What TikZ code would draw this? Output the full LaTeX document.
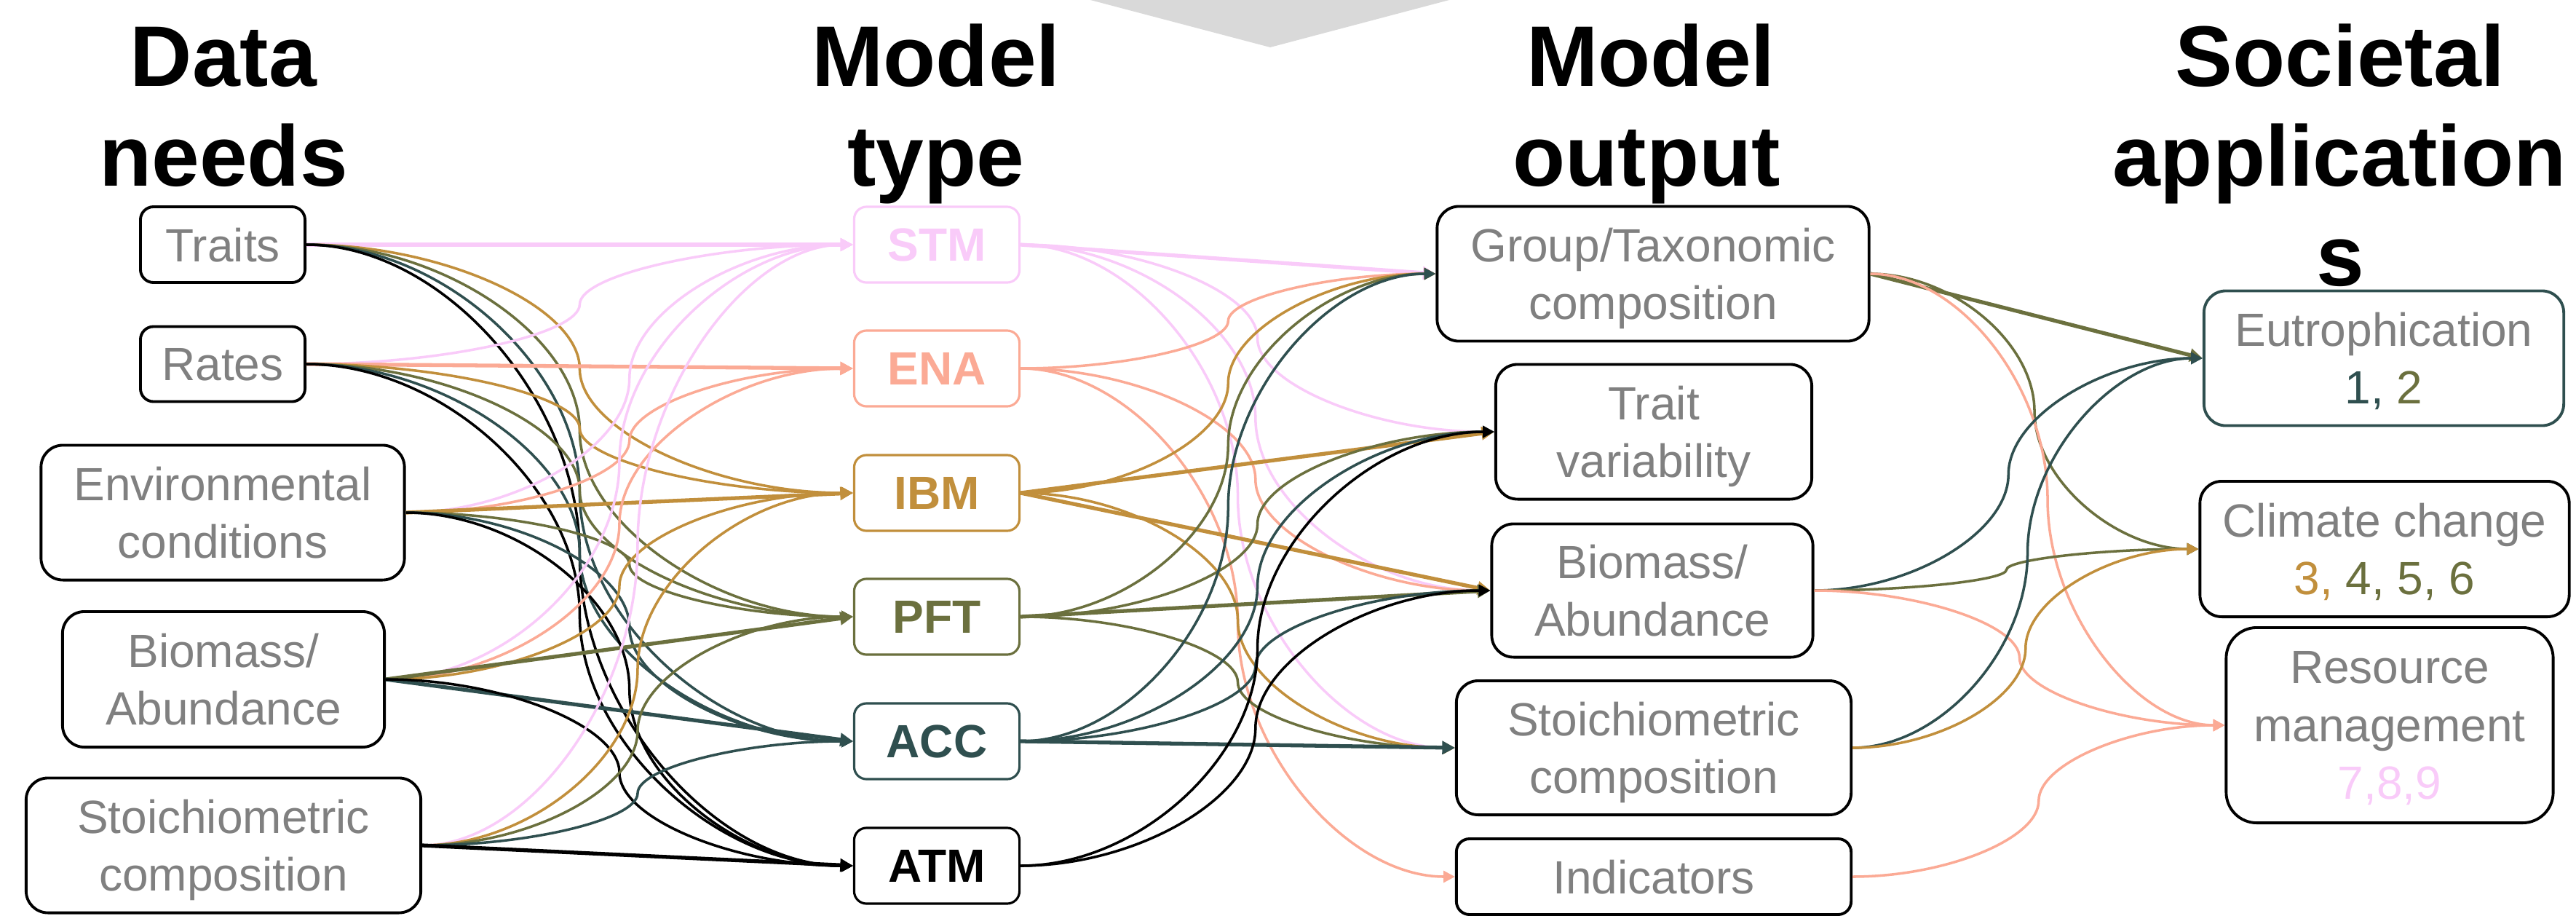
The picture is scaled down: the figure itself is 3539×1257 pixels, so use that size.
\documentclass[tikz,border=0pt]{standalone}
\usepackage{fontspec}
\setmainfont{Liberation Sans}
\usetikzlibrary{arrows.meta,calc}
\definecolor{stmc}{RGB}{249,203,249}
\definecolor{enac}{RGB}{251,170,149}
\definecolor{ibmc}{RGB}{193,143,60}
\definecolor{pftc}{RGB}{107,112,62}
\definecolor{accc}{RGB}{47,79,79}
\definecolor{atmc}{RGB}{0,0,0}
\definecolor{txtg}{RGB}{128,128,128}
\definecolor{trig}{RGB}{217,217,217}
\tikzset{
  box/.style={draw=black, line width=1.1pt, rounded corners=#1, fill=white, inner sep=0pt,
    align=center, text=txtg, text depth=0pt, font=\fontsize{18.2}{22.6}\selectfont},
  box/.default=0.3cm,
  lowtext/.style={text depth=-4pt},
  mbox/.style={draw=#1, text=#1, line width=0.9pt, rounded corners=0.17cm, fill=white,
    minimum width=2.27cm, minimum height=1.04cm, inner sep=0pt,
    font=\bfseries\fontsize{18.2}{22}\selectfont},
  ttl/.style={anchor=base, inner sep=0pt, font=\bfseries\fontsize{33.6}{39}\selectfont},
  con/.style={draw=#1, line width=1pt, -{Triangle[length=4.5pt,width=4.5pt]}},
  scon/.style={draw=#1, line width=1.5pt, -{Triangle[length=5pt,width=5pt]}},
  cc/.style={to path={let \p1=(\tikztostart), \p2=(\tikztotarget) in
    .. controls ({(3*\x1+\x2)/4},\y1) and ({(\x1+\x2)/2},{(3*\y1+\y2)/4}) .. ({(\x1+\x2)/2},{(\y1+\y2)/2})
    .. controls ({(\x1+\x2)/2},{(\y1+3*\y2)/4}) and ({(\x1+3*\x2)/4},\y2) .. (\tikztotarget)}}
}
\begin{document}
\begin{tikzpicture}[x=0.01cm,y=-0.01cm]
\useasboundingbox (0,0) rectangle (3539,1257);
\fill[trig] (1498,0) -- (1991,0) -- (1745,65) -- cycle;

% titles
\node[ttl] (t1a) at (307,118) {Data};
\node[ttl] (t1b) at (307,255) {needs};
\node[ttl] (t2a) at (1286,118) {Model};
\node[ttl] (t2b) at (1286,255) {type};
\node[ttl] (t3a) at (2268,118) {Model};
\node[ttl] (t3b) at (2262,255) {output};
\node[ttl] (t4a) at (3215,118) {Societal};
\node[ttl] (t4b) at (3214,255) {application};
\node[ttl] (t4c) at (3215,392) {s};

% data needs
\node[box=0.18cm, minimum width=2.26cm, minimum height=1.04cm] (traits) at (306,336) {Traits};
\node[box=0.18cm, minimum width=2.26cm, minimum height=1.03cm] (rates) at (306,500) {Rates};
\node[box, minimum width=4.99cm, minimum height=1.85cm] (env) at (306,704) {Environmental\\conditions};
\node[box, minimum width=4.42cm, minimum height=1.86cm] (biom) at (307,933) {Biomass/\\Abundance};
\node[box, minimum width=5.42cm, minimum height=1.85cm] (stoi) at (307,1161) {Stoichiometric\\composition};

% model types
\node[mbox=stmc] (stm) at (1287,336) {STM};
\node[mbox=enac] (ena) at (1287,506) {ENA};
\node[mbox=ibmc] (ibm) at (1287,677) {IBM};
\node[mbox=pftc] (pft) at (1287,847) {PFT};
\node[mbox=accc] (acc) at (1287,1018) {ACC};
\node[mbox=atmc] (atm) at (1287,1189) {ATM};

% model output
\node[box, minimum width=5.93cm, minimum height=1.85cm] (grp) at (2271,376) {Group/Taxonomic\\composition};
\node[box, minimum width=4.34cm, minimum height=1.85cm] (trv) at (2272,593) {Trait\\variability};
\node[box, minimum width=4.41cm, minimum height=1.83cm] (bio) at (2270,811) {Biomass/\\Abundance};
\node[box, minimum width=5.42cm, minimum height=1.84cm] (sto) at (2272,1027) {Stoichiometric\\composition};
\node[box=0.18cm, minimum width=5.42cm, minimum height=1.04cm] (ind) at (2272,1204) {Indicators};

% societal applications
\node[box, lowtext, draw=accc, minimum width=4.94cm, minimum height=1.85cm] (eut) at (3275,492) {Eutrophication\\{\color{accc}1,} {\color{pftc}2}};
\node[box, lowtext, minimum width=5.07cm, minimum height=1.86cm] (cli) at (3276,754) {Climate change\\{\color{ibmc}3,} {\color{pftc}4, 5, 6}};
\node[box=0.42cm, lowtext, minimum width=4.49cm, minimum height=2.68cm] (res) at (3283,996) {Resource\\management\\{\color{stmc}7,8,9}};

% data needs -> model type
\draw[scon=stmc] (traits.east) -- (stm.west);
\draw[con=ibmc] (traits.east) to[cc] (ibm.west);
\draw[con=pftc] (traits.east) to[cc] (pft.west);
\draw[con=accc] (traits.east) to[cc] (acc.west);
\draw[con=atmc] (traits.east) to[cc] (atm.west);

\draw[con=stmc] (rates.east) to[cc] (stm.west);
\draw[scon=enac] (rates.east) -- (ena.west);
\draw[con=ibmc] (rates.east) to[cc] (ibm.west);
\draw[con=pftc] (rates.east) to[cc] (pft.west);
\draw[con=accc] (rates.east) to[cc] (acc.west);
\draw[con=atmc] (rates.east) to[cc] (atm.west);

\draw[con=stmc] (env.east) to[cc] (stm.west);
\draw[con=enac] (env.east) to[cc] (ena.west);
\draw[scon=ibmc] (env.east) -- (ibm.west);
\draw[con=pftc] (env.east) to[cc] (pft.west);
\draw[con=accc] (env.east) to[cc] (acc.west);
\draw[con=atmc] (env.east) to[cc] (atm.west);

\draw[con=stmc] (biom.east) to[cc] (stm.west);
\draw[con=enac] (biom.east) to[cc] (ena.west);
\draw[con=ibmc] (biom.east) to[cc] (ibm.west);
\draw[scon=pftc] (biom.east) -- (pft.west);
\draw[scon=accc] (biom.east) -- (acc.west);
\draw[con=atmc] (biom.east) to[cc] (atm.west);

\draw[con=stmc] (stoi.east) to[cc] (stm.west);
\draw[con=ibmc] (stoi.east) to[cc] (ibm.west);
\draw[con=pftc] (stoi.east) to[cc] (pft.west);
\draw[con=accc] (stoi.east) to[cc] (acc.west);
\draw[scon=atmc] (stoi.east) -- (atm.west);

% model type -> model output
\draw[scon=stmc] (stm.east) -- (grp.west);
\draw[con=stmc] (stm.east) to[cc] (trv.west);
\draw[con=stmc] (stm.east) to[cc] (bio.west);
\draw[con=stmc] (stm.east) to[cc] (sto.west);

\draw[con=enac] (ena.east) to[cc] (grp.west);
\draw[con=enac] (ena.east) to[cc] (bio.west);
\draw[con=enac] (ena.east) to[cc] (ind.west);

\draw[con=ibmc] (ibm.east) to[cc] (grp.west);
\draw[scon=ibmc] (ibm.east) -- (trv.west);
\draw[scon=ibmc] (ibm.east) -- (bio.west);
\draw[con=ibmc] (ibm.east) to[cc] (sto.west);

\draw[con=pftc] (pft.east) to[cc] (grp.west);
\draw[con=pftc] (pft.east) to[cc] (trv.west);
\draw[scon=pftc] (pft.east) -- (bio.west);
\draw[con=pftc] (pft.east) to[cc] (sto.west);

\draw[con=accc] (acc.east) to[cc] (grp.west);
\draw[con=accc] (acc.east) to[cc] (trv.west);
\draw[con=accc] (acc.east) to[cc] (bio.west);
\draw[scon=accc] (acc.east) -- (sto.west);

\draw[con=atmc] (atm.east) to[cc] (trv.west);
\draw[con=atmc] (atm.east) to[cc] (bio.west);

% model output -> societal applications
\draw[scon=pftc] (grp.east) -- (eut.west);
\draw[con=pftc] (grp.east) to[cc] (cli.west);
\draw[con=enac] (grp.east) to[cc] (res.west);

\draw[con=accc] (bio.east) to[cc] (eut.west);
\draw[con=pftc] (bio.east) to[cc] (cli.west);
\draw[con=enac] (bio.east) to[cc] (res.west);

\draw[con=accc] (sto.east) to[cc] (eut.west);
\draw[con=ibmc] (sto.east) to[cc] (cli.west);

\draw[con=enac] (ind.east) to[cc] (res.west);
\end{tikzpicture}
\end{document}
